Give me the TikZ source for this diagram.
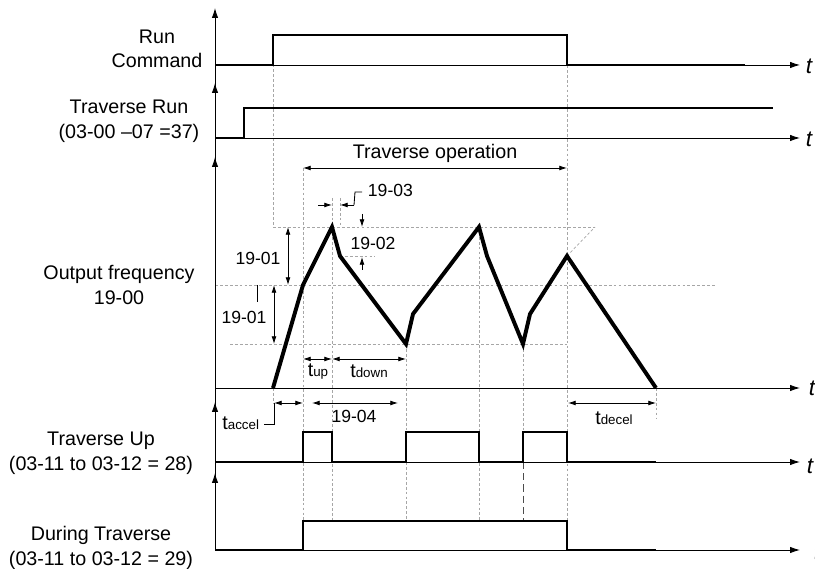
\documentclass[tikz,border=0pt]{standalone}
\usepackage{fontspec}
\setmainfont{Liberation Sans}
\usetikzlibrary{arrows.meta}

\newcommand{\tsub}[1]{{\fontsize{14}{14}\selectfont t}{\fontsize{9.5}{10}\selectfont #1}}

\begin{document}
\begin{tikzpicture}[x=0.025cm,y=-0.025cm,
  axis/.style={line width=0.6pt},
  tipped/.style={-{Latex[length=7pt,width=4.5pt]}},
  sig/.style={line width=1.5pt},
  freq/.style={line width=2.8pt},
  guide/.style={black!35,line width=0.5pt,dash pattern=on 2pt off 1.5pt},
  dim/.style={line width=0.6pt,{Latex[length=5.5pt,width=3.5pt]}-{Latex[length=5.5pt,width=3.5pt]}},
  half/.style={line width=0.6pt,-{Latex[length=5.5pt,width=3.5pt]}},
  lbl/.style={font=\fontsize{14}{17.5}\selectfont,align=center},
  num/.style={font=\fontsize{12.5}{14}\selectfont},
  tlbl/.style={font=\fontsize{16}{16}\selectfont\itshape,anchor=west}]
  \useasboundingbox (0,0) rectangle (815,569);
  % guide lines
  \draw[guide] (273,35)--(273,227) (273,388)--(273,403);
  \draw[guide] (303,168)--(303,521);
  \draw[guide] (332,198)--(332,521);
  \draw[guide] (340,198)--(340,227);
  \draw[guide] (406,344)--(406,521);
  \draw[guide] (479,227)--(479,521);
  \draw[guide] (523,344)--(523,462);
  \draw[line width=0.6pt,black!70,dash pattern=on 5pt off 3pt] (523,462)--(523,521);
  \draw[guide] (567,65)--(567,521);
  \draw[guide] (656,388)--(656,418);
  \draw[guide] (273,227)--(595,227) (340,256)--(375,256);
  \draw[guide] (215,285)--(715,285) (230,344)--(567,344);
  \draw[guide] (567,256)--(595,227);
  % axes
  \draw[axis] (215,550)--(215,65);
  \foreach \b/\tp in {65/8,138/83,388/157,462/402,550/473}{
    \draw[axis,tipped] (215,\b)--(215,\tp);
    \draw[axis,tipped] (215,\b)--(800,\b);}
  \node[tlbl] (trun) at (801,66) {t};
  \node[tlbl] (ttrav) at (801,139) {t};
  \node[tlbl] (tfreq) at (804,388) {t};
  \node[tlbl] (tup) at (802,466) {t};
  \node[tlbl] (tdur) at (809,553) {t};
  % signals
  \draw[sig] (215,65)--(273,65)--(273,35)--(567,35)--(567,65)--(745,65);
  \draw[sig] (215,138)--(244,138)--(244,108)--(773,108);
  \draw[sig] (215,462)--(303,462)--(303,432)--(332,432)--(332,462)--(406,462)--(406,432)
    --(479,432)--(479,462)--(523,462)--(523,432)--(567,432)--(567,462)--(656,462);
  \draw[sig] (215,550)--(303,550)--(303,521)--(567,521)--(567,550)--(656,550);
  \draw[freq] (273,388)--(303,285)--(332,227)--(340,256)--(406,344)--(413,314)--(479,227)
    --(487,256)--(523,344)--(530,314)--(567,256)--(656,388);
  % dimensions
  \draw[dim] (303,168)--(567,168);
  \node[lbl] (travop) at (435,153) {Traverse operation};
  \draw[half] (318,205)--(332,205);
  \draw[half] (354,205)--(340,205);
  \draw[line width=0.6pt] (354,205)--(355,192)--(362,192);
  \node[num,anchor=west] (p1903) at (363,190) {19-03};
  \draw[half] (362,214)--(362,227);
  \draw[half] (362,270)--(362,257);
  \node[num] (p1902) at (373,243) {19-02};
  \draw[dim] (288,227)--(288,285);
  \node[num] (p1901a) at (258,258) {19-01};
  \draw[line width=0.6pt] (257,285)--(257,302);
  \draw[dim] (274,285)--(274,344);
  \node[num] (p1901b) at (244,317) {19-01};
  \draw[dim] (303,359)--(332,359);
  \node (tuplbl) at (318,372) {\tsub{up}};
  \draw[dim] (332,359)--(406,359);
  \node (tdownlbl) at (369,371) {\tsub{down}};
  \draw[dim] (274,403)--(303,403);
  \node[anchor=east] (taccel) at (264,423) {\tsub{accel}};
  \draw[line width=0.6pt] (264,424)--(274,424)--(274,403);
  \draw[dim] (312,403)--(398,403);
  \node[num] (p1904) at (354,416) {19-04};
  \draw[dim] (568,403)--(656,403);
  \node (tdecel) at (614,418) {\tsub{decel}};
  % row labels
  \node[lbl] (runcmd) at (157,49) {Run\\Command};
  \node[lbl] (travrun) at (129,121) {Traverse Run\\(03-00 --07 =37)};
  \node[lbl] (outfreq) at (119,285) {Output frequency\\19-00};
  \node[lbl] (travup) at (101,453) {Traverse Up\\(03-11 to 03-12 = 28)};
  \node[lbl] (during) at (101,548) {During Traverse\\(03-11 to 03-12 = 29)};
\end{tikzpicture}
\end{document}
